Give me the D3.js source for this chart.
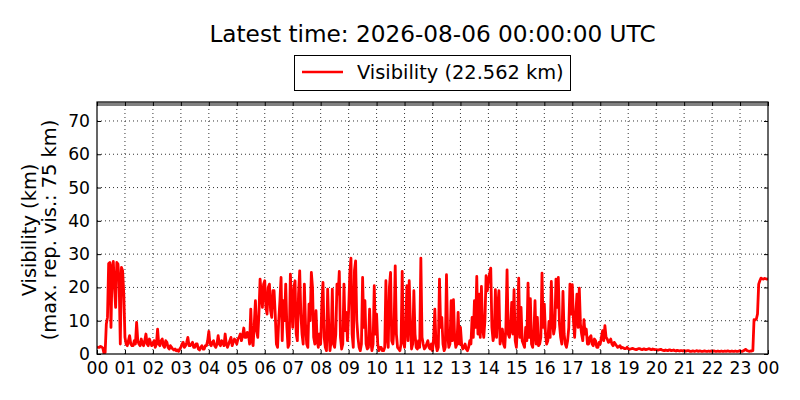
<!DOCTYPE html>
<html><head><meta charset="utf-8">
<script src="https://cdn.jsdelivr.net/npm/d3@7"></script>
<style>body{margin:0;background:#fff}</style>
</head><body><svg id="c" width="800" height="400"></svg>
<script>
// ---- chart content ----
const titleText = "Latest time: 2026-08-06 00:00:00 UTC";
const legendLabel = "Visibility (22.562 km)";
const yLabelLines = ["Visibility (km)", "(max. rep. vis.: 75 km)"];
const maxRepVis = 75;
const stepMinutes = 2.5;
const hourTicks = d3.range(0, 25);
const yTicks = [0, 10, 20, 30, 40, 50, 60, 70];

// Visibility in km, one value every 2.5 minutes (24 per row = 1 hour)
const vis00to06 = [
  2.2, 2.0, 2.0, 2.3, 2.1, 1.8, 0.2, 0.5, 9, 11, 27.2, 27.5, 8, 26, 27.8, 20, 14, 27.5, 27, 22, 3, 26, 25, 18,
  5, 3, 2.5, 4, 5.5, 3, 2.5, 2.5, 4, 3, 9.5, 4, 3, 2.5, 4.5, 3, 2.5, 4, 6, 3, 2.5, 4.5, 3.5, 2.5,
  3, 4, 2, 3, 7.5, 3, 2.5, 4, 4.5, 2.5, 2, 4, 3.5, 2, 1.5, 2.5, 2, 1.5, 1.2, 1.5, 1, 1.2, 0.8, 1.5,
  2, 3, 3.5, 2, 2.5, 3.5, 5, 2.5, 2.5, 3, 3.5, 2, 2, 3, 3, 1.5, 1.2, 2, 2.5, 1.5, 1.5, 2.5, 2.5, 4,
  6.8, 3, 2.5, 3.5, 4, 2.5, 2, 3, 5.5, 3, 2.5, 4, 3.5, 2.5, 6, 3, 2, 3, 4, 5, 2.5, 3.5, 4.5, 4,
  3, 4.5, 5, 6, 4, 5.5, 7.8, 5, 5, 6.5, 6, 3, 13.5, 4, 2.5, 9, 16, 7, 5, 12, 22.5, 18, 14, 21
];
const vis06to12 = [
  22, 14, 12, 20, 21, 13, 11, 19, 19, 12, 3, 2, 10, 16, 23, 4, 16, 10, 21, 8, 2, 3, 24, 15,
  8, 20, 22, 6, 4, 18, 25, 12, 6, 3, 21, 9, 3, 2, 15, 10, 24.5, 20, 5, 3, 13, 4, 2, 6,
  3, 15, 21.5, 5, 2, 1, 19.5, 8, 1, 4, 19.5, 3, 2, 6, 21, 18, 24.8, 5, 1.5, 3, 21, 7, 12.5, 4,
  13, 24, 28.8, 6, 2, 25, 28, 10, 5, 2, 1, 3, 23, 8, 16, 3, 1.5, 2, 13.5, 4, 1, 3, 20.5, 6,
  12, 3, 1, 2, 2, 1, 1, 2, 22, 5, 2, 20, 24.5, 4, 3, 8, 26.5, 6, 2, 1.5, 1, 3, 24.8, 4,
  2, 8, 20.5, 4, 22, 10, 1.5, 3, 19, 6, 2, 1.5, 4, 2, 28.8, 5, 3, 1.5, 2, 3, 4, 2, 1.5, 3
];
const vis12to18 = [
  1, 5, 13.5, 3, 1, 2, 22.5, 8, 11, 3, 1, 2, 23.8, 6, 2, 3, 16, 4, 16.3, 5, 2, 3, 12.5, 3,
  8, 3, 1.5, 2, 3, 1.5, 1, 2, 4, 3, 11, 5, 16, 8, 23.3, 6, 18, 5, 20.3, 8, 5, 10, 23.5, 19,
  22, 24, 25.8, 8, 4, 6, 19.3, 5, 14, 19, 3, 5, 7.5, 3, 2, 8, 25.3, 6, 5, 8, 15.5, 6, 19.3, 4,
  2, 9, 22.8, 5, 14, 4, 3, 2, 8, 4, 21.3, 5, 16.6, 3, 2, 6, 16, 3, 11, 2.5, 3, 5, 24.3, 8,
  15, 6, 3, 4, 9.8, 5, 21.8, 10, 6, 8, 22.5, 14, 23, 9, 5, 3, 18.8, 6, 3, 2, 4, 8, 21, 12,
  20.8, 10, 5, 12, 18, 8, 19.8, 9, 6, 4, 10.3, 6, 7.5, 3, 3, 5, 5.5, 3, 2.5, 4.5, 4, 2, 2, 3.5
];
const vis18to24 = [
  3, 5, 7, 4, 8.5, 5, 4.5, 3.5, 3.8, 4.5, 3, 2.5, 3.5, 3, 2.5, 2, 2.2, 2.5, 1.8, 2, 1.8, 1.6, 1.6, 2.0,
  1.6, 1.4, 1.5, 1.6, 1.7, 1.5, 1.4, 1.3, 1.5, 1.6, 1.6, 1.4, 1.3, 1.5, 1.5, 1.3, 1.4, 1.5, 1.6, 1.4, 1.3, 1.5, 1.4, 1.3,
  1.3, 1.2, 1.2, 1.3, 1.4, 1.2, 1.1, 1.0, 1.2, 1.1, 1.0, 1.2, 1.2, 1.0, 1.1, 1.2, 1.0, 0.9, 1.1, 1.0, 0.9, 1.0, 1.0, 0.9,
  1.0, 0.9, 0.9, 1.0, 1.0, 0.8, 0.8, 0.9, 0.9, 0.8, 0.9, 1.0, 0.8, 0.9, 0.9, 0.8, 0.8, 0.9, 0.9, 0.8, 0.8, 0.9, 0.8, 0.9,
  0.8, 0.9, 0.9, 0.8, 0.8, 0.9, 0.8, 0.8, 0.9, 0.8, 0.8, 0.9, 0.8, 0.9, 0.9, 0.8, 0.8, 0.9, 0.8, 0.8, 0.9, 0.8, 0.8, 0.9,
  0.9, 0.8, 0.8, 1.0, 1.2, 1.4, 1.0, 0.9, 0.8, 0.9, 0.9, 1.0, 10.3, 10.2, 10.5, 12, 21, 22, 22.8, 22.6, 22.5, 22.7, 22.6, 22.5
];
const latestVis = 22.562;

// ---- drawing ----
const FONT = "'DejaVu Sans', sans-serif";
const svg = d3.select("#c");
svg.append("rect").attr("width", 800).attr("height", 400).attr("fill", "#fff");

const x = d3.scaleLinear().domain([0, 24]).range([97, 768]);
const y = d3.scaleLinear().domain([0, 75.7]).range([354, 102]);
const [yB, yT] = y.range();
const [xL, xR] = x.range();

const values = [].concat(vis00to06, vis06to12, vis12to18, vis18to24, [latestVis]);
const data = values.map((v, i) => ({ h: i * stepMinutes / 60, v }));

// grid
const grid = svg.append("g").attr("stroke", "#000").attr("stroke-width", 0.8).attr("stroke-dasharray", "1,3");
grid.selectAll("line.gx").data(hourTicks.slice(1, -1)).join("line").attr("class", "gx")
  .attr("x1", d => x(d)).attr("x2", d => x(d)).attr("y1", yB).attr("y2", yT);
grid.selectAll("line.gy").data(yTicks.slice(1)).join("line").attr("class", "gy")
  .attr("x1", xL).attr("x2", xR).attr("y1", d => y(d)).attr("y2", d => y(d));

// clip
svg.append("clipPath").attr("id", "clip").append("rect")
  .attr("x", xL).attr("y", yT).attr("width", xR - xL).attr("height", yB - yT);

// max reported visibility line
svg.append("line").attr("x1", xL).attr("x2", xR).attr("y1", y(maxRepVis)).attr("y2", y(maxRepVis))
  .attr("stroke", "#808080").attr("stroke-width", 3.5).attr("clip-path", "url(#clip)");

// data line
const line = d3.line().x(d => x(d.h)).y(d => y(d.v));
svg.append("path").datum(data).attr("d", line).attr("fill", "none")
  .attr("stroke", "#ff0000").attr("stroke-width", 2.8).attr("stroke-linejoin", "round")
  .attr("clip-path", "url(#clip)");

// axes
function styleAxis(g) {
  g.select(".domain").remove();
  g.attr("font-family", FONT).attr("font-size", 17.2);
  g.selectAll(".tick line").attr("stroke", "#000").attr("stroke-width", 1);
  g.selectAll(".tick text").attr("fill", "#000");
}
svg.append("g").attr("transform", `translate(0,${yB})`)
  .call(d3.axisBottom(x).tickValues(hourTicks).tickFormat(d => d3.format("02d")(d % 24))
    .tickSizeInner(-4).tickSizeOuter(0).tickPadding(8)).call(styleAxis);
svg.append("g").attr("transform", `translate(0,${yT})`)
  .call(d3.axisTop(x).tickValues(hourTicks).tickFormat("").tickSizeInner(-4).tickSizeOuter(0)).call(styleAxis);
svg.append("g").attr("transform", `translate(${xL},0)`)
  .call(d3.axisLeft(y).tickValues(yTicks).tickSizeInner(-4).tickSizeOuter(0).tickPadding(7)).call(styleAxis);
svg.append("g").attr("transform", `translate(${xR},0)`)
  .call(d3.axisRight(y).tickValues(yTicks).tickFormat("").tickSizeInner(-4).tickSizeOuter(0)).call(styleAxis);

// frame
svg.append("rect").attr("x", xL).attr("y", yT).attr("width", xR - xL).attr("height", yB - yT)
  .attr("fill", "none").attr("stroke", "#000").attr("stroke-width", 1.2);

// title
svg.append("text").attr("x", (xL + xR) / 2).attr("y", 41.7).attr("text-anchor", "middle")
  .attr("font-family", FONT).attr("font-size", 23.2).attr("fill", "#000").text(titleText);

// legend
const lg = svg.append("g");
lg.append("rect").attr("x", 294.5).attr("y", 55.5).attr("width", 276).attr("height", 35)
  .attr("fill", "#fff").attr("stroke", "#000").attr("stroke-width", 1);
lg.append("line").attr("x1", 302).attr("x2", 343).attr("y1", 72).attr("y2", 72)
  .attr("stroke", "#ff0000").attr("stroke-width", 2.5);
lg.append("text").attr("x", 357).attr("y", 78.8).attr("font-family", FONT).attr("font-size", 19.4)
  .attr("fill", "#000").text(legendLabel);

// y label
const ylx = [35.7, 55.7];
yLabelLines.forEach((t, i) => {
  svg.append("text").attr("transform", `translate(${ylx[i]},${(yT + yB) / 2 + 2}) rotate(-90)`)
    .attr("text-anchor", "middle").attr("font-family", FONT).attr("font-size", 19.4)
    .attr("fill", "#000").text(t);
});
</script></body></html>
